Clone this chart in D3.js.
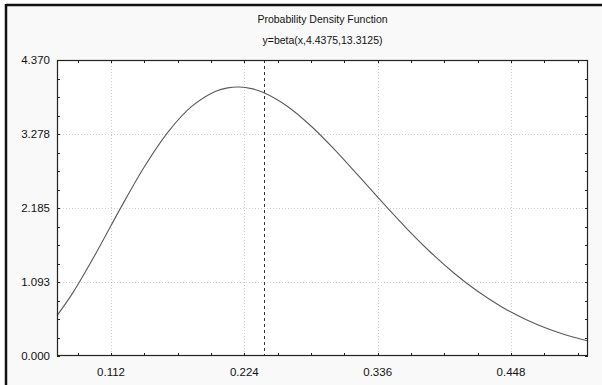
<!DOCTYPE html>
<html><head><meta charset="utf-8">
<script src="https://cdn.jsdelivr.net/npm/d3@7"></script>
<style>body{margin:0;background:#fff}svg{display:block}text{font-family:"Liberation Sans",Arial,sans-serif;fill:#111}</style>
</head><body><svg id="c" width="602" height="385"></svg>
<script>
const titleLines = ["Probability Density Function", "y=beta(x,4.4375,13.3125)"];
const xDomain = [0.0666, 0.5127];
const yDomain = [0, 4.370];
const xTickValues = [0.112, 0.224, 0.336, 0.448];
const yTickValues = [0.000, 1.093, 2.185, 3.278, 4.370];
const medianX = 0.2404;
const curveX = [0.0666,0.08,0.10,0.12,0.14,0.16,0.18,0.20,0.21,0.22,0.23,0.24,0.26,0.28,0.30,0.32,0.34,0.36,0.38,0.40,0.42,0.44,0.46,0.48,0.50,0.5127];
const curveY = [0.596,0.936,1.538,2.183,2.794,3.310,3.688,3.909,3.959,3.971,3.947,3.890,3.688,3.396,3.043,2.659,2.267,1.889,1.539,1.226,0.955,0.728,0.542,0.394,0.280,0.222];

const svg = d3.select("#c");
const L = 57, R = 588, T = 60, B = 356;
svg.append("rect").attr("x",6).attr("y",5).attr("width",596).attr("height",380).attr("fill","#f9f9f9");
svg.append("line").attr("x1",6).attr("x2",602).attr("y1",5).attr("y2",5).attr("stroke","#111").attr("stroke-width",2.5);
svg.append("line").attr("x1",6).attr("x2",6).attr("y1",4).attr("y2",385).attr("stroke","#111").attr("stroke-width",2.5);
svg.append("rect").attr("x",L).attr("y",T).attr("width",R-L).attr("height",B-T).attr("fill","#fff");

const x = d3.scaleLinear().domain(xDomain).range([L, R]);
const y = d3.scaleLinear().domain(yDomain).range([B, T]);

svg.append("g").selectAll("line").data(xTickValues).join("line")
  .attr("x1",d=>Math.round(x(d))+0.5).attr("x2",d=>Math.round(x(d))+0.5).attr("y1",T).attr("y2",B)
  .attr("stroke","#cfcfcf").attr("stroke-dasharray","1,2");
svg.append("g").selectAll("line").data(yTickValues.slice(1,-1)).join("line")
  .attr("y1",d=>Math.round(y(d))+0.5).attr("y2",d=>Math.round(y(d))+0.5).attr("x1",L).attr("x2",R)
  .attr("stroke","#cfcfcf").attr("stroke-dasharray","1,2");

const xMinor = d3.range(Math.ceil(xDomain[0]/0.028), Math.floor(xDomain[1]/0.028)+1).map(i=>i*0.028);
const yMinor = d3.range(0, 17).map(i=>i*yDomain[1]/16);
const tk = 3;
const tg = svg.append("g").attr("stroke","#222").attr("stroke-width",1);
xMinor.forEach(v=>{
  const px = Math.round(x(v))+0.5;
  tg.append("line").attr("x1",px).attr("x2",px).attr("y1",B).attr("y2",B-tk);
  tg.append("line").attr("x1",px).attr("x2",px).attr("y1",T).attr("y2",T+tk);
});
yMinor.forEach(v=>{
  const py = Math.round(y(v))+0.5;
  tg.append("line").attr("y1",py).attr("y2",py).attr("x1",L).attr("x2",L+tk);
  tg.append("line").attr("y1",py).attr("y2",py).attr("x1",R).attr("x2",R-tk);
});

svg.append("line").attr("x1",Math.round(x(medianX))+0.5).attr("x2",Math.round(x(medianX))+0.5)
  .attr("y1",T).attr("y2",B).attr("stroke","#333").attr("stroke-dasharray","3,3");

const pts = curveX.map((v,i)=>[v,curveY[i]]);
svg.append("path").datum(pts)
  .attr("d", d3.line().x(d=>x(d[0])).y(d=>y(d[1])).curve(d3.curveCatmullRom.alpha(0.5)))
  .attr("fill","none").attr("stroke","#5a5a5a").attr("stroke-width",1.1);

svg.append("rect").attr("x",L+0.5).attr("y",T+0.5).attr("width",R-L-1).attr("height",B-T-1)
  .attr("fill","none").attr("stroke","#222").attr("stroke-width",1.2);

svg.append("g").selectAll("text").data(xTickValues).join("text")
  .attr("x",d=>x(d)).attr("y",376).attr("text-anchor","middle").attr("font-size",11.5)
  .text(d=>d3.format(".3f")(d));
svg.append("g").selectAll("text").data(yTickValues).join("text")
  .attr("x",50).attr("y",d=>y(d)+4).attr("text-anchor","end").attr("font-size",11.5)
  .text(d=>d3.format(".3f")(d));

svg.append("g").selectAll("text").data(titleLines).join("text")
  .attr("x",(L+R)/2).attr("y",(d,i)=>23+i*21).attr("text-anchor","middle").attr("font-size",10.5)
  .text(d=>d);
</script></body></html>
